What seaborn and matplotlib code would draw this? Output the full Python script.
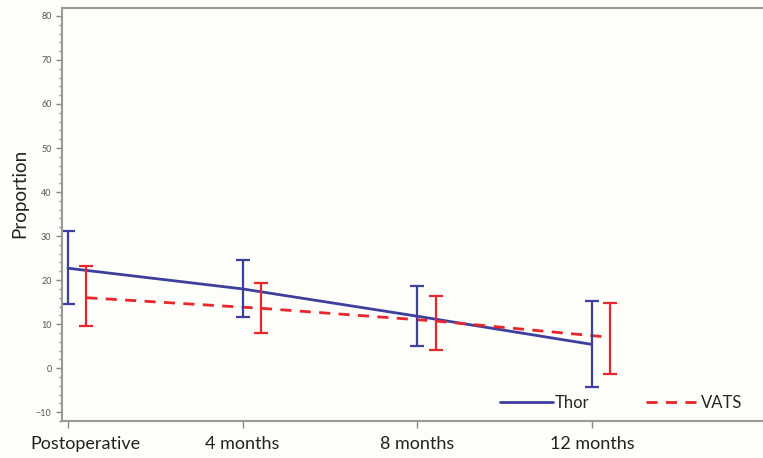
import numpy as np
import pandas as pd
import matplotlib
matplotlib.use("Agg")
import matplotlib.pyplot as plt
import seaborn as sns
from matplotlib.ticker import MultipleLocator

sns.set_style("ticks")
plt.rcParams["font.family"] = ["Lato", "DejaVu Sans"]

# values
categories = ["Postoperative", "4 months", "8 months", "12 months"]
thor_mean = [22.7, 18.0, 11.8, 5.4]
thor_lo = [14.6, 11.7, 5.1, -4.2]
thor_hi = [31.1, 24.5, 18.7, 15.3]
vats_mean = [16.0, 13.6, 10.7, 7.0]
vats_lo = [9.5, 7.9, 4.1, -1.4]
vats_hi = [23.1, 19.4, 16.4, 14.9]

BLUE = "#3d3f9e"
RED = "#e8262b"
OFFSET = 0.105  # VATS drawn slightly right of each time point

idx = np.arange(len(categories))
df = pd.concat([
    pd.DataFrame({"pos": idx, "value": thor_mean, "lo": thor_lo, "hi": thor_hi, "group": "Thor"}),
    pd.DataFrame({"pos": idx + OFFSET, "value": vats_mean, "lo": vats_lo, "hi": vats_hi, "group": "VATS"}),
])

fig = plt.figure(figsize=(7.63, 4.58), dpi=100, facecolor="#fdfdf9")
ax = fig.add_axes([0.0813, 0.0808, 0.9187, 0.9017])
ax.set_facecolor("#fdfdf9")

sns.lineplot(data=df, x="pos", y="value", hue="group", style="group",
             palette={"Thor": BLUE, "VATS": RED},
             dashes={"Thor": "", "VATS": (4, 3)},
             linewidth=2, ax=ax, legend=True)

for g, color in [("Thor", BLUE), ("VATS", RED)]:
    d = df[df.group == g]
    ax.errorbar(d["pos"], d["value"],
                yerr=[d["value"] - d["lo"], d["hi"] - d["value"]],
                fmt="none", ecolor=color, elinewidth=1.6, capsize=5.2, capthick=1.6)

ax.set_xlim(-0.034, 3.98)
ax.set_ylim(-12, 81.8)
ax.set_xticks(idx)
# first label sits a little right of its tick in the original (kept inside the image)
ax.set_xticklabels([""] + categories[1:], fontsize=13, color="#222222")
ax.annotate(categories[0], xy=(idx[0], 0), xycoords=ax.get_xaxis_transform(),
            xytext=(12.5, -11), textcoords="offset points", ha="center", va="top",
            fontsize=13, color="#222222", annotation_clip=False)
ax.yaxis.set_major_locator(MultipleLocator(10))
ax.yaxis.set_minor_locator(MultipleLocator(2))
ax.tick_params(axis="y", which="major", labelsize=6.5, labelcolor="#555555",
               length=4, color="#888888", width=1)
ax.tick_params(axis="y", which="minor", length=2, color="#888888", width=1)
ax.tick_params(axis="x", length=5, color="#888888", width=1, pad=6)
ax.set_xlabel("")
ax.set_ylabel("Proportion", fontsize=13.5, color="#222222")
ax.yaxis.set_label_coords(-0.048, 0.552)

for side in ["left", "top", "bottom"]:
    ax.spines[side].set_color("#999999")
    ax.spines[side].set_linewidth(1.5)
ax.spines["right"].set_visible(False)

sns.move_legend(ax, "lower right", bbox_to_anchor=(0.992, -0.012), ncol=2,
                frameon=False, title=None, fontsize=12, handlelength=3.2,
                columnspacing=3.4, handletextpad=0.1)

fig.savefig("out.png", dpi=100, facecolor=fig.get_facecolor())
